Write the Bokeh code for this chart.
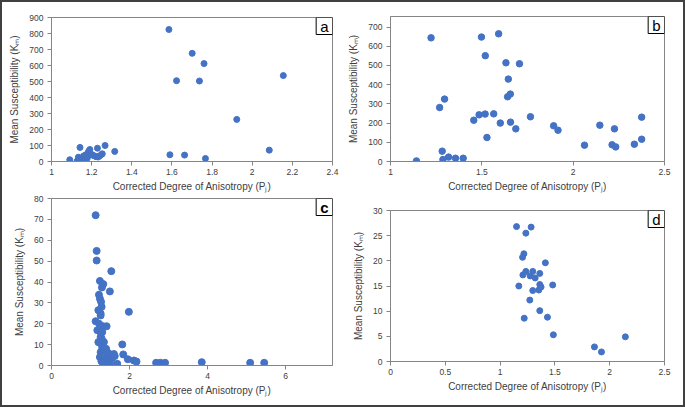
from bokeh.plotting import figure
from bokeh.layouts import row, column
from bokeh.models import FixedTicker, NumeralTickFormatter, Range1d, Label
from bokeh.embed import file_html
from bokeh.resources import INLINE

# ---------------- data ----------------
xa = [1.091, 1.127, 1.142, 1.134, 1.154, 1.160, 1.165, 1.171, 1.178, 1.182, 1.186, 1.191,
      1.196, 1.204, 1.212, 1.222, 1.229, 1.232, 1.240, 1.249, 1.253, 1.267, 1.315, 1.585,
      1.590, 1.623, 1.663, 1.701, 1.737, 1.760, 1.767, 1.923, 2.085, 2.155]
ya = [11, 2, 88, 27, 15, 35, 5, 42, 20, 54, 65, 75,
      48, 40, 36, 30, 83, 28, 35, 44, 48, 100, 63, 825,
      42, 505, 40, 676, 503, 612, 19, 263, 71, 537]

xb = [1.142, 1.222, 1.269, 1.296, 1.283, 1.287, 1.318, 1.356, 1.398, 1.456, 1.485, 1.518,
      1.498, 1.519, 1.528, 1.565, 1.592, 1.601, 1.632, 1.645, 1.641, 1.656, 1.657, 1.686,
      1.706, 1.766, 1.893, 1.917, 2.062, 2.146, 2.226, 2.213, 2.233, 2.335, 2.375, 2.375]
yb = [3, 644, 281, 325, 54, 10, 23, 17, 17, 215, 243, 247,
      648, 551, 125, 248, 665, 200, 514, 429, 337, 351, 205, 170,
      509, 233, 186, 163, 85, 189, 170, 87, 76, 90, 231, 116]

xc = [1.131, 1.157, 1.157, 1.532, 1.241, 1.327, 1.292, 1.496, 1.216, 1.241, 1.284, 1.259,
      1.982, 1.131, 1.327, 1.412, 1.174, 1.259, 1.343, 1.241, 1.813, 1.259, 1.386, 1.514,
      1.838, 1.956, 2.109, 2.178, 1.685, 1.327, 1.430, 1.240, 1.300, 1.360, 1.450, 1.550,
      1.620, 1.280, 1.350, 1.480, 1.220, 1.600, 1.400, 2.680, 2.790, 2.910, 3.850, 5.090,
      5.450, 1.200, 1.330, 1.270, 1.500, 1.270, 1.260, 1.300, 1.285, 1.200]
yc = [72.0, 54.9, 50.3, 45.2, 40.5, 39.0, 37.4, 35.5, 33.9, 32.0, 28.1, 24.9,
      25.7, 21.2, 18.8, 18.8, 16.9, 13.6, 11.2, 10.8, 10.1, 6.4, 6.4, 5.3,
      5.3, 3.0, 2.4, 1.9, 0.8, 0.8, 4.0, 4.0, 8.5, 7.5, 6.0, 3.5,
      4.5, 2.0, 3.0, 2.5, 20.0, 5.5, 8.0, 1.3, 1.3, 1.3, 1.6, 1.3,
      1.3, 26.5, 1.5, 15.5, 1.0, 30.5, 24.0, 16.0, 12.9, 11.2]

xd = [1.150, 1.283, 1.235, 1.217, 1.205, 1.413, 1.235, 1.208, 1.274, 1.298, 1.320, 1.362,
      1.171, 1.362, 1.374, 1.353, 1.298, 1.480, 1.271, 1.362, 1.220, 1.432, 1.486, 1.861,
      1.925, 2.143]
yd = [26.8, 26.7, 25.5, 21.4, 20.7, 19.6, 17.9, 17.2, 17.0, 17.9, 16.6, 17.5,
      15.0, 15.3, 14.8, 14.2, 14.1, 15.2, 12.2, 10.1, 8.6, 8.8, 5.3, 2.9,
      1.9, 4.9]

xticks_a = [1, 1.2, 1.4, 1.6, 1.8, 2, 2.2, 2.4]
yticks_a = [0, 100, 200, 300, 400, 500, 600, 700, 800, 900]
xticks_b = [1, 1.5, 2, 2.5]
yticks_b = [0, 100, 200, 300, 400, 500, 600, 700]
xticks_c = [0, 2, 4, 6]
yticks_c = [0, 10, 20, 30, 40, 50, 60, 70, 80]
xticks_d = [0, 0.5, 1, 1.5, 2, 2.5]
yticks_d = [0, 5, 10, 15, 20, 25, 30]

xlabel = "Corrected Degree of Anisotropy (P\u2c7c)"
ylabel = "Mean Susceptibility (K\u2098)"

FONT = "Liberation Sans"
BLUE = "#4472C4"
GRAY = "#858585"
TXT = "#404040"


def panel(xs, ys, xr, yr, xt, yt, letter, w, h, bl, br, bt, bb, size, bold=False):
    p = figure(width=w, height=h, x_range=Range1d(*xr), y_range=Range1d(*yr),
               output_backend="svg", toolbar_location=None,
               min_border_left=bl, min_border_right=br, min_border_top=bt, min_border_bottom=bb)
    p.scatter(xs, ys, size=size, fill_color=BLUE, line_color=BLUE)
    p.xgrid.visible = False
    p.ygrid.visible = False
    p.outline_line_color = GRAY
    p.outline_line_width = 1
    p.background_fill_color = "white"
    p.border_fill_color = "white"
    p.xaxis.ticker = FixedTicker(ticks=xt)
    p.yaxis.ticker = FixedTicker(ticks=yt)
    p.xaxis.formatter = NumeralTickFormatter(format="0.[0]")
    p.yaxis.formatter = NumeralTickFormatter(format="0")
    for ax in (p.xaxis, p.yaxis):
        ax.axis_line_color = GRAY
        ax.major_tick_line_color = GRAY
        ax.major_tick_out = 4
        ax.major_tick_in = 0
        ax.minor_tick_line_color = None
        ax.major_label_text_font = FONT
        ax.major_label_text_font_size = "8.5px"
        ax.major_label_text_color = TXT
        ax.axis_label_text_font = FONT
        ax.axis_label_text_font_size = "10px"
        ax.axis_label_text_font_style = "normal"
        ax.axis_label_text_color = TXT
    p.xaxis.axis_label = xlabel
    p.yaxis.axis_label = ylabel
    p.xaxis.major_label_standoff = 3
    p.yaxis.major_label_standoff = 4
    p.xaxis.axis_label_standoff = 3
    p.yaxis.axis_label_standoff = 6
    lab = Label(x=xr[1], y=yr[1], text=letter, anchor="top_right",
                text_font=FONT, text_font_size="15px", text_line_height=1.0,
                text_font_style="bold" if bold else "normal", text_color="black",
                border_line_color="black", border_line_width=1,
                background_fill_color="white", padding=dict(x=4, y=0))
    p.add_layout(lab)
    return p


pa = panel(xa, ya, (1, 2.4), (0, 900), xticks_a, yticks_a, "a", 343, 193, 49, 13, 15, 34, 6)
pb = panel(xb, yb, (1, 2.5), (0, 755), xticks_b, yticks_b, "b", 338, 193, 44, 19, 14, 34, 6.5)
pc = panel(xc, yc, (0, 7.2), (0, 80), xticks_c, yticks_c, "c", 343, 210, 49, 13, 3, 40, 7, bold=True)
pd = panel(xd, yd, (0, 2.5), (0, 30), xticks_d, yticks_d, "d", 338, 210, 44, 19, 15, 44, 6)

layout = row(column(pa, pc), column(pb, pd), styles={"border": "2px solid #404040"})

open("out.html", "w").write(file_html(layout, INLINE))
